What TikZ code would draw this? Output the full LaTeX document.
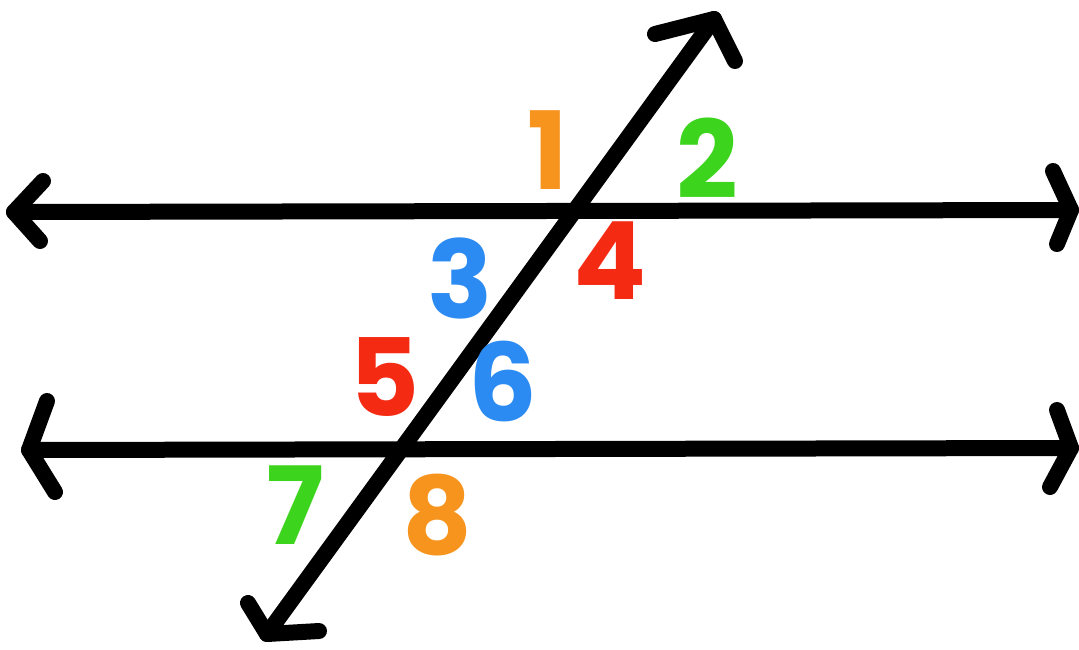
\documentclass[tikz,border=0pt]{standalone}
\usepackage{fontspec}
\setmainfont{Poppins}[UprightFont=* Bold]
\definecolor{cOrange}{HTML}{F7941D}
\definecolor{cGreen}{HTML}{3DD41E}
\definecolor{cBlue}{HTML}{2B8BF2}
\definecolor{cRed}{HTML}{F42A12}
\begin{document}
\begin{tikzpicture}[x=1pt,y=-1pt,
  ln/.style={line width=16pt,line cap=round,line join=round,black},
  num/.style={inner sep=0pt,anchor=center,font=\fontsize{108}{108}\selectfont}]
\useasboundingbox (0,0) rectangle (1079,649);
% line ends
\coordinate (tL) at (14,212);
\coordinate (tR) at (1071,210);
\coordinate (bL) at (29,450);
\coordinate (bR) at (1071,448);
\coordinate (xT) at (714,19);
\coordinate (xB) at (267,634);
% arrow arm ends
\coordinate (tLa) at (43,181);
\coordinate (tLb) at (40,241);
\coordinate (tRa) at (1053,171);
\coordinate (tRb) at (1057,244);
\coordinate (bLa) at (47,401);
\coordinate (bLb) at (55,492);
\coordinate (bRa) at (1057,410);
\coordinate (bRb) at (1050,487);
\coordinate (xTa) at (655,34);
\coordinate (xTb) at (735,61);
\coordinate (xBa) at (248,603);
\coordinate (xBb) at (319,631);
% lines
\draw[ln] (tL) -- (tR);
\draw[ln] (bL) -- (bR);
\draw[ln] (xB) -- (xT);
% arrowheads
\draw[ln] (tLa) -- (tL) -- (tLb);
\draw[ln] (tRa) -- (tR) -- (tRb);
\draw[ln] (bLa) -- (bL) -- (bLb);
\draw[ln] (bRa) -- (bR) -- (bRb);
\draw[ln] (xTa) -- (xT) -- (xTb);
\draw[ln] (xBa) -- (xB) -- (xBb);
% numbers
\node[num,text=cOrange] (n1) at (548,150) {1};
\node[num,text=cGreen]  (n2) at (707,158) {2};
\node[num,text=cBlue]   (n3) at (460,278) {3};
\node[num,text=cRed]    (n4) at (610,261) {4};
\node[num,text=cRed]    (n5) at (385,377) {5};
\node[num,text=cBlue]   (n6) at (503,381) {6};
\node[num,text=cGreen]  (n7) at (295,505) {7};
\node[num,text=cOrange] (n8) at (437,515) {8};
\end{tikzpicture}
\end{document}
